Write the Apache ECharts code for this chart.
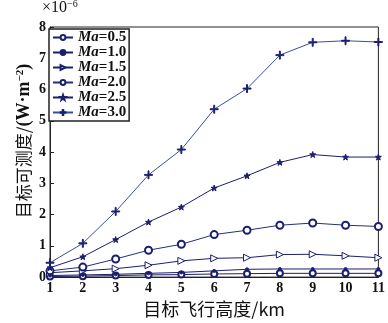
<!DOCTYPE html>
<html><head><meta charset="utf-8">
<script src="https://cdn.jsdelivr.net/npm/echarts@6/dist/echarts.min.js"></script>
<style>html,body{margin:0;padding:0;background:#fff}#c{width:388px;height:323px}</style>
</head><body><div id="c"></div>
<script>
const heights = [1,2,3,4,5,6,7,8,9,10,11];
const ma05 = [0.02,0.03,0.05,0.07,0.08,0.10,0.11,0.12,0.12,0.12,0.12];
const ma10 = [0.05,0.07,0.09,0.12,0.15,0.20,0.25,0.26,0.26,0.26,0.26];
const ma15 = [0.14,0.20,0.27,0.38,0.52,0.60,0.62,0.72,0.73,0.68,0.62];
const ma20 = [0.20,0.32,0.58,0.86,1.05,1.36,1.50,1.66,1.73,1.66,1.62];
const ma25 = [0.30,0.65,1.20,1.76,2.24,2.85,3.24,3.67,3.92,3.84,3.84];
const ma30 = [0.46,1.08,2.10,3.27,4.08,5.37,6.03,7.10,7.51,7.56,7.52];
const seriesNames = ['Ma=0.5','Ma=1.0','Ma=1.5','Ma=2.0','Ma=2.5','Ma=3.0'];

const serif = '"Liberation Serif","DejaVu Serif",serif';
const cjk = '"Noto Sans CJK SC","Liberation Serif",serif';
const navy = '#1c1f6e';
const plusPath = 'path://M4.4,0 L5.6,0 L5.6,4.4 L10,4.4 L10,5.6 L5.6,5.6 L5.6,10 L4.4,10 L4.4,5.6 L0,5.6 L0,4.4 L4.4,4.4 Z';
const starPath = 'path://M5,0 L6.2,3.6 L10,3.6 L7,5.9 L8.1,9.5 L5,7.3 L1.9,9.5 L3,5.9 L0,3.6 L3.8,3.6 Z';
const triPath = 'path://M0,0 L10,5 L0,10 Z';

const dataSets = [ma05, ma10, ma15, ma20, ma25, ma30];
const symbols = ['emptyCircle','circle',triPath,'emptyCircle',starPath,plusPath];
const sizes = [6,3,7,7,6,8];
const lineColors = [navy, navy, navy, '#23307a', navy, '#3a4f9a'];

const series = dataSets.map((d,i)=>({
  name: seriesNames[i],
  type: 'line',
  data: heights.map((h,k)=>[h,d[k]]),
  symbol: symbols[i],
  symbolSize: sizes[i],
  showAllSymbol: true,
  lineStyle: {color: lineColors[i], width: 1},
  itemStyle: {color: i===2 ? '#fff' : navy, borderColor: navy, borderWidth: 1},
  emphasis: {disabled: true},
  animation: false
}));

const chart = echarts.init(document.getElementById('c'), null, {renderer:'canvas'});
chart.setOption({
  animation: false,
  grid: {left: 50, right: 9, top: 27, bottom: 40, show: true, borderColor: '#222', borderWidth: 1},
  legend: {
    left: 49, top: 29, orient: 'vertical',
    itemWidth: 20, itemHeight: 6, itemGap: 0,
    padding: [1,3,1,3],
    backgroundColor: '#fff', borderColor: '#222', borderWidth: 1.5,
    data: seriesNames,
    formatter: n => '{i|Ma}{n|' + n.slice(2) + '}',
    textStyle: {
      rich: {
        i: {fontFamily: serif, fontStyle: 'italic', fontWeight: 'bold', fontSize: 15, lineHeight: 12, color: '#111'},
        n: {fontFamily: serif, fontWeight: 'bold', fontSize: 15, lineHeight: 12, color: '#111'}
      }
    }
  },
  xAxis: {
    type: 'value', min: 1, max: 11, interval: 1,
    name: '目标飞行高度/km', nameLocation: 'middle', nameGap: 21,
    nameTextStyle: {fontFamily: cjk, fontSize: 18, color: '#111'},
    axisLine: {show: true, onZero: false, lineStyle: {color: '#222'}},
    axisTick: {inside: true, length: 4, lineStyle: {color: '#222'}},
    axisLabel: {fontFamily: serif, fontWeight: 'bold', fontSize: 14, color: '#111', margin: 4},
    splitLine: {show: false}
  },
  yAxis: {
    type: 'value', min: 0, max: 8, interval: 1,
    axisLine: {show: true, lineStyle: {color: '#222'}},
    axisTick: {inside: true, length: 4, lineStyle: {color: '#222'}},
    axisLabel: {fontFamily: serif, fontWeight: 'bold', fontSize: 14, color: '#111', margin: 4},
    splitLine: {show: false}
  },
  graphic: [{
    type: 'text', x: 24, y: 141, rotation: Math.PI/2,
    style: {
      text: '{c|目标可测度/}{l|(W·m}{s|−2}{l|)}',
      align: 'center', verticalAlign: 'middle',
      rich: {
        c: {fontFamily: cjk, fontSize: 17, fill: '#111'},
        l: {fontFamily: serif, fontSize: 18, fontWeight: 'bold', fill: '#111'},
        s: {fontFamily: serif, fontSize: 11, fontWeight: 'bold', fill: '#111', verticalAlign: 'top', padding: [0,0,8,0]}
      }
    }
  }, {
    type: 'text', x: 42, y: 16,
    style: {
      text: '{b|×10}{s|−6}',
      align: 'left', verticalAlign: 'bottom',
      rich: {
        b: {fontFamily: serif, fontSize: 16, fill: '#111'},
        s: {fontFamily: serif, fontSize: 10, fill: '#111', verticalAlign: 'top', padding: [0,0,7,0]}
      }
    }
  }],
  series: series
});
</script></body></html>
